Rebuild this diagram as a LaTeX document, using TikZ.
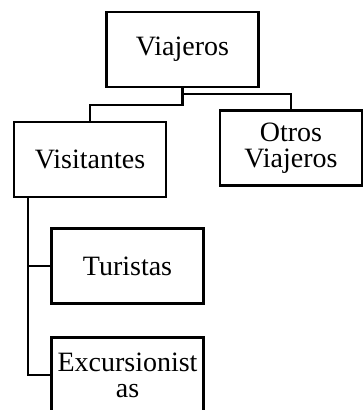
\documentclass[tikz,border=0pt]{standalone}
\usepackage{fontspec}
\setmainfont{Liberation Serif}
\begin{document}
\begin{tikzpicture}[x=1pt,y=-1pt,
    caja/.style={draw,line width=2.4pt,minimum width=152pt,minimum height=75pt,
      align=center,font=\fontsize{28}{26}\selectfont},
    rama/.style={line width=2.4pt}]
  \useasboundingbox (0,0) rectangle (363,410);

  \node[caja] (viaj) at (182.5,49.5) {Viajeros};
  \node[caja] (visit) at (90,159.5) {Visitantes};
  \node[caja,minimum width=142pt] (otros) at (291,148) {Otros\\Viajeros};
  \node[caja] (tur) at (127.5,266) {Turistas};
  \node[caja] (exc) at (127.5,375) {Excursionist\\as};

  \draw[rama] (viaj.south) -- ++(0,17) -| (visit.north);
  \draw[rama] (viaj.south) -- ++(0,6) -| (otros.north);

  \draw[rama] ([xshift=15pt]visit.south west) |- (tur.west);
  \draw[rama] ([xshift=15pt]visit.south west) |- (exc.west);
\end{tikzpicture}
\end{document}
